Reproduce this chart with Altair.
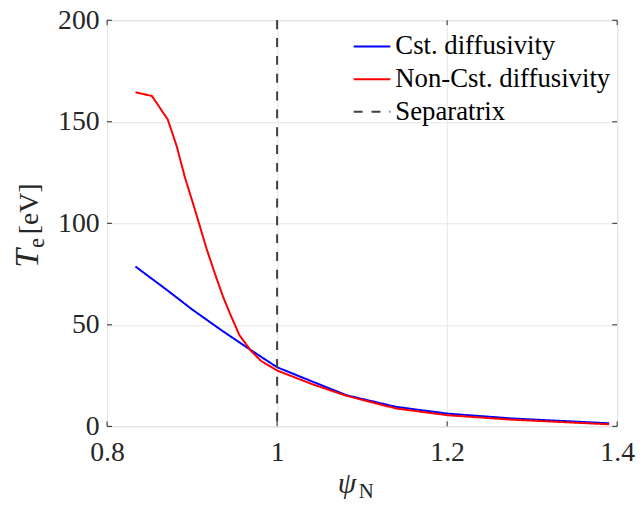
import altair as alt
import pandas as pd

# ---- data ----
cst_x = [0.8334, 0.87, 0.90, 0.935, 0.969, 0.981, 1.0, 1.0431, 1.0818, 1.14, 1.2, 1.276, 1.3906]
cst_y = [78.7, 67.3, 57.6, 47.2, 37.6, 34.3, 29.1, 21.8, 15.3, 9.6, 6.3, 3.9, 1.5]

ncst_x = [0.8335, 0.8528, 0.8714, 0.8819, 0.8916, 0.9025, 0.9169, 0.9266, 0.9363, 0.9441,
          0.9557, 0.9693, 0.9809, 1.0, 1.0431, 1.0818, 1.14, 1.2, 1.276, 1.3906]
ncst_y = [164.5, 162.7, 151.1, 138.0, 122.6, 107.9, 87.7, 75.5, 64.0, 56.0,
          44.9, 37.2, 32.3, 27.5, 20.5, 15.0, 8.8, 5.5, 3.3, 1.0]

sep_x = [1.0]

series_names = ["Cst. diffusivity", "Non-Cst. diffusivity", "Separatrix"]
series_colors = ["#0000ff", "#ff0000", "#404040"]
series_dash = [[1, 0], [1, 0], [9, 9]]

x_ticks = [0.8, 1.0, 1.2, 1.4]
y_ticks = [0, 50, 100, 150, 200]

W, H = 515, 410
FONT = "Liberation Serif"
TXT = "#262626"

lines_df = pd.DataFrame(
    {"psi": cst_x + ncst_x,
     "Te": cst_y + ncst_y,
     "series": [series_names[0]] * len(cst_x) + [series_names[1]] * len(ncst_x)}
)
sep_df = pd.DataFrame({"psi": sep_x, "series": [series_names[2]]})
xt_df = pd.DataFrame({"v": x_ticks})
yt_df = pd.DataFrame({"v": y_ticks})

xscale = alt.Scale(domain=[0.8, 1.4], nice=False, zero=False)
yscale = alt.Scale(domain=[0, 200], nice=False)

legend = alt.Legend(
    orient="none", legendX=248, legendY=7, padding=0,
    labelFont=FONT, labelFontSize=27, labelColor="#000000", labelLimit=0,
    symbolType="stroke", symbolSize=1369, symbolStrokeWidth=2,
    rowPadding=-1.5, labelOffset=4, fillColor="transparent", strokeColor="transparent",
)
color = alt.Color(
    "series:N",
    scale=alt.Scale(domain=series_names, range=series_colors),
    title=None, legend=legend,
)
dash = alt.StrokeDash(
    "series:N",
    scale=alt.Scale(domain=series_names, range=series_dash),
    title=None, legend=legend,
)

xaxis = alt.Axis(values=x_ticks, grid=True, gridColor="#e6e6e6", gridWidth=1,
                 domain=False, ticks=False, tickSize=0, labelPadding=12,
                 labelFont=FONT, labelFontSize=28, labelColor=TXT,
                 format="~g", title=None, labelFlush=False)
yaxis = alt.Axis(values=y_ticks, grid=True, gridColor="#e6e6e6", gridWidth=1,
                 domain=False, ticks=False, tickSize=0, labelPadding=8,
                 labelFont=FONT, labelFontSize=28, labelColor=TXT,
                 title=None, labelFlush=False)

base_axes = alt.Chart(yt_df).mark_point(opacity=0).encode(
    x=alt.X("v:Q", scale=xscale, axis=xaxis),
    y=alt.Y("v:Q", scale=yscale, axis=yaxis),
)

lines = alt.Chart(lines_df).mark_line(strokeWidth=2, clip=True).encode(
    x=alt.X("psi:Q", scale=xscale),
    y=alt.Y("Te:Q", scale=yscale),
    color=color,
    strokeDash=dash,
)

sep = alt.Chart(sep_df).mark_rule(strokeWidth=2).encode(
    x=alt.X("psi:Q", scale=xscale),
    color=color,
    strokeDash=dash,
)

xt_bot = alt.Chart(xt_df).mark_rule(color=TXT, strokeWidth=1).encode(
    x=alt.X("v:Q", scale=xscale), y=alt.value(H), y2=alt.value(H - 5))
xt_top = alt.Chart(xt_df).mark_rule(color=TXT, strokeWidth=1).encode(
    x=alt.X("v:Q", scale=xscale), y=alt.value(0), y2=alt.value(5))
yt_left = alt.Chart(yt_df).mark_rule(color=TXT, strokeWidth=1).encode(
    y=alt.Y("v:Q", scale=yscale), x=alt.value(0), x2=alt.value(5))
yt_right = alt.Chart(yt_df).mark_rule(color=TXT, strokeWidth=1).encode(
    y=alt.Y("v:Q", scale=yscale), x=alt.value(W), x2=alt.value(W - 5))


def piece(text, size, x, y, italic=False, angle=0):
    kw = dict(font=FONT, fontSize=size, align="left", baseline="alphabetic", color=TXT)
    if italic:
        kw["fontStyle"] = "italic"
    if angle:
        kw["angle"] = angle
    return alt.Chart(pd.DataFrame({"t": [text]})).mark_text(**kw).encode(
        text="t:N", x=alt.value(x), y=alt.value(y))


# y-axis title  T_e [eV]  (rotated)
y_T = piece("T", 34, -70, 250, italic=True, angle=270)
y_e = piece("e", 23, -64, 230, angle=270)
y_eV = piece("[eV]", 28, -70, 216, angle=270)

# x-axis title  psi_N
x_psi = piece("ψ", 30, 233, 477, italic=True)
x_N = piece("N", 21, 254, 482)

chart = alt.layer(
    base_axes, xt_bot, xt_top, yt_left, yt_right, lines, sep,
    y_T, y_e, y_eV, x_psi, x_N,
).properties(
    width=W, height=H,
    autosize=alt.AutoSizeParams(type="none"),
    padding={"left": 100, "top": 10, "right": 18, "bottom": 73},
).configure_view(
    stroke=TXT, strokeWidth=1,
).configure(background="#ffffff")

chart.save("out.html", embed_options={"renderer": "svg", "actions": False})
